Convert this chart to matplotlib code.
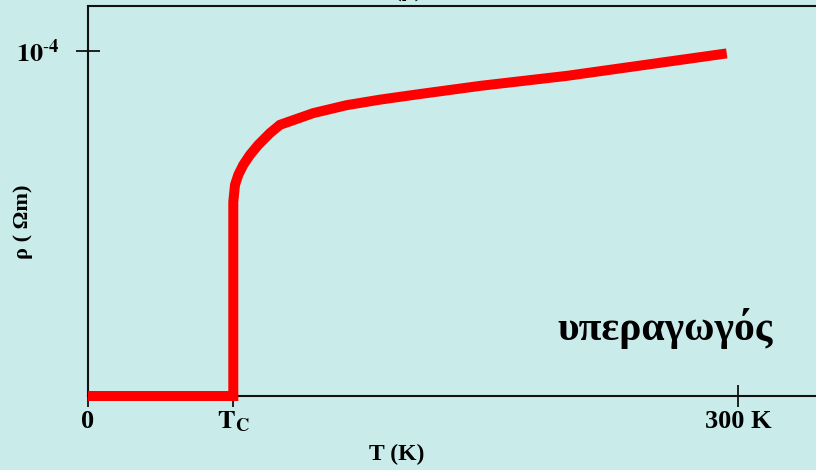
import matplotlib
matplotlib.use('Agg')
import matplotlib.pyplot as plt

# resistivity of a superconductor vs temperature
T_c = 67.0
T_vals = [0, 67.06, 67.06, 67.06, 67.85, 69.37, 71.68, 74.77, 78.6, 84.0,
          88.6, 104.0, 119.4, 134.8, 151.7, 181.1, 221.1, 294.8]
rho_vals = [0, 0, 0.461, 0.563, 0.612, 0.641, 0.670, 0.699, 0.728, 0.762,
            0.786, 0.820, 0.843, 0.859, 0.874, 0.899, 0.928, 0.993]  # x 1e-4 Ohm m
rho = [r * 1e-4 for r in rho_vals]

x_ticks = [0, T_c, 300]
x_tick_labels = ['0', r'$\mathbf{T_C}$', '300 K']
y_ticks = [1e-4]
y_tick_labels = [r'$\mathbf{10^{\text{-}4}}$']

plt.rcParams['mathtext.fontset'] = 'stix'
plt.rcParams['font.family'] = ['Liberation Serif', 'DejaVu Serif']

bg = '#c9ecea'
fig = plt.figure(figsize=(8.16, 4.70), dpi=100, facecolor=bg)
ax = fig.add_axes([88 / 816, 74 / 470, 728 / 816, 390 / 470])
ax.set_facecolor('none')

ax.plot(T_vals, rho, color='#ff0000', lw=7.2, solid_capstyle='butt',
        solid_joinstyle='miter', clip_on=False, zorder=3)

ax.set_xlim(0, 300 * 728 / 650)
ax.set_ylim(0, 1e-4 * 390 / 345)

for side in ['top', 'left', 'bottom']:
    ax.spines[side].set_linewidth(1.5)
    ax.spines[side].set_color('#111111')
ax.spines['right'].set_visible(False)

ax.set_xticks(x_ticks)
ax.set_xticklabels(x_tick_labels, fontsize=19, fontweight='bold')
ax.set_yticks(y_ticks)
ax.set_yticklabels(y_tick_labels, fontsize=19, fontweight='bold')
ax.tick_params(axis='x', direction='inout', length=16, width=1.2, pad=2)
ax.tick_params(axis='y', direction='inout', length=17, width=1.2, pad=12)

ax.set_xlabel('T (K)', fontsize=17, fontweight='bold')
ax.xaxis.set_label_coords(309 / 728, -48 / 390)
ax.set_ylabel('ρ ( Ωm)', fontsize=16, fontweight='bold')
ax.yaxis.set_label_coords(-55 / 728, 174 / 390)

ax.text(469 / 728, 56 / 390, 'υπεραγωγός', transform=ax.transAxes,
        fontsize=30, fontweight='bold', ha='left', va='baseline')

# title cut off at the top of the original slide
fig.text(409 / 816, 1.0 - 1 / 470, '(β)', fontsize=19, fontweight='bold',
         ha='center', va='bottom')

fig.savefig('out.png', dpi=100, facecolor=bg)
